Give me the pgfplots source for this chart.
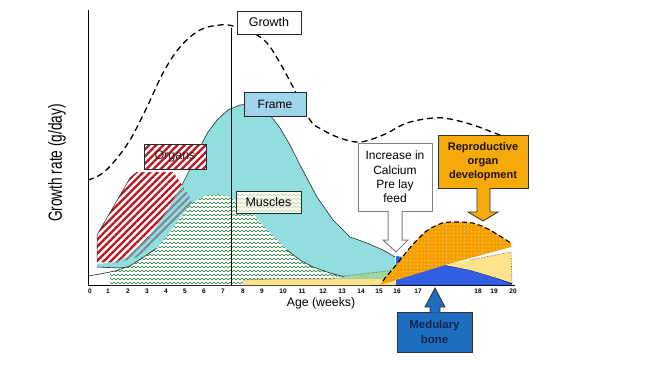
\documentclass[border=0pt]{standalone}
\usepackage{pgfplots}
\pgfplotsset{compat=1.18}
\usepackage{fontspec}
\setmainfont{Liberation Sans}
\usetikzlibrary{patterns,patterns.meta}

\pgfdeclarepatternformonly{zigzag}{\pgfqpoint{-1pt}{-1pt}}{\pgfqpoint{5pt}{5pt}}{\pgfqpoint{4pt}{4pt}}{%
 \pgfsetlinewidth{0.6pt}%
 \pgfpathmoveto{\pgfqpoint{0pt}{1pt}}%
 \pgfpathlineto{\pgfqpoint{2pt}{3pt}}%
 \pgfpathlineto{\pgfqpoint{4pt}{1pt}}%
 \pgfusepath{stroke}}

\definecolor{cyanf}{RGB}{146,221,221}
\definecolor{redstripe}{RGB}{190,20,30}
\definecolor{graystripe}{RGB}{125,135,148}
\definecolor{zig}{RGB}{30,120,50}
\definecolor{lgreen}{RGB}{160,214,160}
\definecolor{pyellow}{RGB}{255,226,140}
\definecolor{bluem}{RGB}{50,95,225}
\definecolor{orangef}{RGB}{245,160,0}
\definecolor{framebox}{RGB}{160,212,236}
\definecolor{reprobox}{RGB}{245,170,10}
\definecolor{medbox}{RGB}{30,110,190}
\definecolor{medtext}{RGB}{15,35,80}
\definecolor{edge}{RGB}{30,45,50}

\begin{document}
\begin{tikzpicture}
\useasboundingbox (0,0) rectangle (650pt,365pt);
\begin{axis}[
  at={(88pt,80pt)}, anchor=south west, scale only axis,
  width=427pt, height=275pt,
  xmin=88, xmax=515, ymin=0, ymax=275,
  axis lines=left, axis line style={-, line width=1pt, black},
  xtick={90,108,128,147,166,185,204,223,243,262,283,302,323,342,361,379,397,418,478,494,513},
  xticklabels={0,1,2,3,4,5,6,7,8,9,10,11,12,13,14,15,16,17,18,19,20},
  ytick=\empty, major tick length=0pt,
  xticklabel style={font=\fontsize{6.5}{7}\selectfont\bfseries, yshift=-0.5pt},
  clip=false,
]
% Organs
\addplot[draw=none, preaction={fill=white}, pattern={Lines[angle=45,distance=5pt,line width=2.3pt]}, pattern color=redstripe]
 coordinates {(97,50) (130,107) (137,113) (173,113) (182,100) (190,87) (192,82) (173,62) (157,44) (137,28) (117,22) (97,23)} -- cycle;
\addplot[edge, line width=0.5pt] coordinates {(97,23) (97,50) (130,107) (137,113)};
% Frame
\addplot[draw=none, fill=cyanf]
 coordinates {(97,21) (115,23) (127,28) (148,47) (167,73) (182,100) (192,120) (200,138) (208,153) (217,165) (228,175) (240,180) (250,181) (260,178) (270,170) (280,157) (290,140) (300,120) (317,88) (333,65) (350,48) (367,42) (383,35) (395,28) (395,0) (200,0) (157,28) (140,20) (120,17) (97,18)} -- cycle;
\addplot[edge, line width=0.6pt]
 coordinates {(182,100) (192,120) (200,138) (208,153) (217,165) (228,175) (240,180) (250,181) (260,178) (270,170) (280,157) (290,140) (300,120) (317,88) (333,65) (350,48) (367,42) (383,35) (395,28)};
\addplot[edge, line width=0.6pt] coordinates {(97,18) (120,17) (140,20) (157,28)};
% Organs over frame
\addplot[draw=none, preaction={fill=cyanf}, pattern={Lines[angle=45,distance=5pt,line width=2pt]}, pattern color=graystripe]
 coordinates {(182,100) (190,87) (192,82) (173,62) (157,44) (137,28) (117,22) (115,23) (127,28) (148,47) (167,73)} -- cycle;
% Muscles
\addplot[draw=none, preaction={fill=white}, pattern=zigzag, pattern color=zig]
 coordinates {(110,13) (115,14) (130,19) (145,29) (157,37) (170,53) (182,70) (192,82) (207,90) (217,91) (230,88) (247,78) (267,55) (287,35) (300,25) (313,18) (330,12) (345,8) (360,4) (370,0) (110,0)} -- cycle;
\addplot[edge, line width=0.6pt] coordinates {(88,9) (100,11) (115,14) (130,19) (145,29) (157,37)};
\addplot[edge, line width=0.6pt] coordinates {(287,35) (300,25) (313,18) (330,12) (345,8) (360,4)};
% bottom yellow strip and light green
\addplot[draw=none, fill=pyellow] coordinates {(243,5) (280,6) (333,6) (396,6) (396,0) (243,0)} -- cycle;
\addplot[draw=none, fill=lgreen] coordinates {(333,6) (353,10) (396,15) (396,6)} -- cycle;
\addplot[black!70, densely dotted, line width=0.6pt] coordinates {(243,5) (280,6) (333,6)};
\addplot[black!70, densely dotted, line width=0.6pt] coordinates {(333,8) (353,10) (396,15)};
% Medullary bone
\addplot[draw=none, fill=bluem] coordinates {(396,0) (396,29) (403,28) (420,26) (445,20) (470,15) (497,7) (512,2) (512,0)} -- cycle;
\addplot[blue!40!black, line width=0.6pt] coordinates {(445,20) (470,15) (497,7) (512,1)};
% pale yellow
\addplot[draw=none, fill=pyellow] coordinates {(445,20) (511,33) (512,2) (497,7) (470,15)} -- cycle;
\addplot[black!70, densely dotted, line width=0.6pt] coordinates {(470,25) (511,33) (512,2)};
% Reproductive organs
\addplot[draw=none, preaction={fill=orangef}, pattern={Dots[radius=0.45pt,distance=3.6pt]}, pattern color=white!85!orangef]
 coordinates {(380,0) (385,7) (392,15) (400,25) (408,35) (417,45) (425,53) (433,58) (442,62) (450,63) (462,63) (473,62) (482,59) (490,55) (500,49) (511,42) (511,38) (445,20)} -- cycle;
\addplot[black, line width=1.1pt, dash pattern=on 5pt off 3pt]
 coordinates {(383,4) (385,7) (392,15) (400,25) (408,35) (417,45) (425,53) (433,58) (442,62) (450,63) (462,63) (473,62) (482,59) (490,55) (500,49) (511,42)};
% Growth
\addplot[black, line width=1.3pt, smooth, tension=0.6, dash pattern=on 6pt off 4pt]
 coordinates {(88,105) (100,110) (113,122) (130,145) (147,178) (163,212) (180,238) (200,255) (220,260) (233,259) (253,252) (267,242) (280,222) (293,198) (310,165) (323,155) (340,147) (360,143) (383,150) (407,162) (433,167) (450,166) (473,160) (500,150) (507,148)};
% vertical line
\addplot[black, line width=1pt] coordinates {(231,0) (231,257)};

% boxes
\node[draw=edge, fill=white, line width=0.6pt, minimum width=64pt, minimum height=23pt, inner sep=0pt, font=\fontsize{12.5}{13}\selectfont] at (axis cs:269,262.5) {Growth};
\node[draw=edge, fill=framebox, line width=0.6pt, minimum width=62pt, minimum height=24pt, inner sep=0pt, font=\fontsize{12}{13}\selectfont] at (axis cs:275,181) {Frame};
\node[draw=edge, preaction={fill=white}, pattern={Lines[angle=45,distance=5pt,line width=2.3pt]}, pattern color=redstripe, line width=0.6pt, minimum width=62pt, minimum height=25pt, inner sep=0pt] at (axis cs:175,128.5) {};
\node[font=\fontsize{12.5}{13}\selectfont, text=black!85] at (axis cs:175,128.5) {Organs};
\node[draw=edge, preaction={fill=yellow!6}, pattern=zigzag, pattern color=green!25!gray!45, line width=0.6pt, minimum width=65pt, minimum height=22pt, inner sep=0pt] at (axis cs:268.5,83) {};
\node[font=\fontsize{12.5}{13}\selectfont] at (axis cs:268.5,83) {Muscles};

% Increase box + arrow
\node[draw=gray, fill=white, line width=1pt, minimum width=74pt, minimum height=68pt, inner sep=0pt, align=center, font=\fontsize{12}{14.3}\selectfont] at (axis cs:395,108) {Increase in\\Calcium\\Pre lay\\feed};
\addplot[draw=none, fill=white] coordinates {(388,75) (402,75) (402,45) (408,45) (396,33) (383,45) (388,45)} -- cycle;
\addplot[gray, line width=1pt] coordinates {(388,74.5) (388,45) (383,45) (396,33) (408,45) (402,45) (402,74.5)};

% Reproductive box + arrow
\node[draw=black!80, fill=reprobox, line width=0.8pt, minimum width=90pt, minimum height=53pt, inner sep=0pt, align=center, text=black!85!brown, font=\fontsize{11}{14}\selectfont\bfseries] at (axis cs:483,123.5) {Reproductive\\organ\\development};
\addplot[draw=none, fill=reprobox] coordinates {(477,97.5) (490,97.5) (490,73) (498,73) (483,64) (468,73) (477,73)} -- cycle;
\addplot[black!80, line width=0.8pt] coordinates {(477,97) (477,73) (468,73) (483,64) (498,73) (490,73) (490,97)};

% Medullary box + arrow
\node[draw=black!80, fill=medbox, line width=0.8pt, minimum width=75pt, minimum height=40pt, inner sep=0pt, align=center, text=medtext, font=\fontsize{11.4}{14.3}\selectfont\bfseries] at (axis cs:434.5,-47) {Medulary\\bone};
\addplot[draw=none, fill=medbox] coordinates {(430,-27.5) (440,-27.5) (440,-22) (445,-22) (435,-3) (425,-22) (430,-22)} -- cycle;
\addplot[black!80, line width=0.8pt] coordinates {(430,-27) (430,-22) (425,-22) (435,-3) (445,-22) (440,-22) (440,-27)};

% axis labels
\node[font=\fontsize{12.3}{13}\selectfont] at (axis cs:321,-18) {Age (weeks)};
\node[rotate=90] at (axis cs:57,122) {\scalebox{0.72}[1]{\fontsize{19}{20}\selectfont Growth rate (g/day)}};
\end{axis}
\end{tikzpicture}
\end{document}
